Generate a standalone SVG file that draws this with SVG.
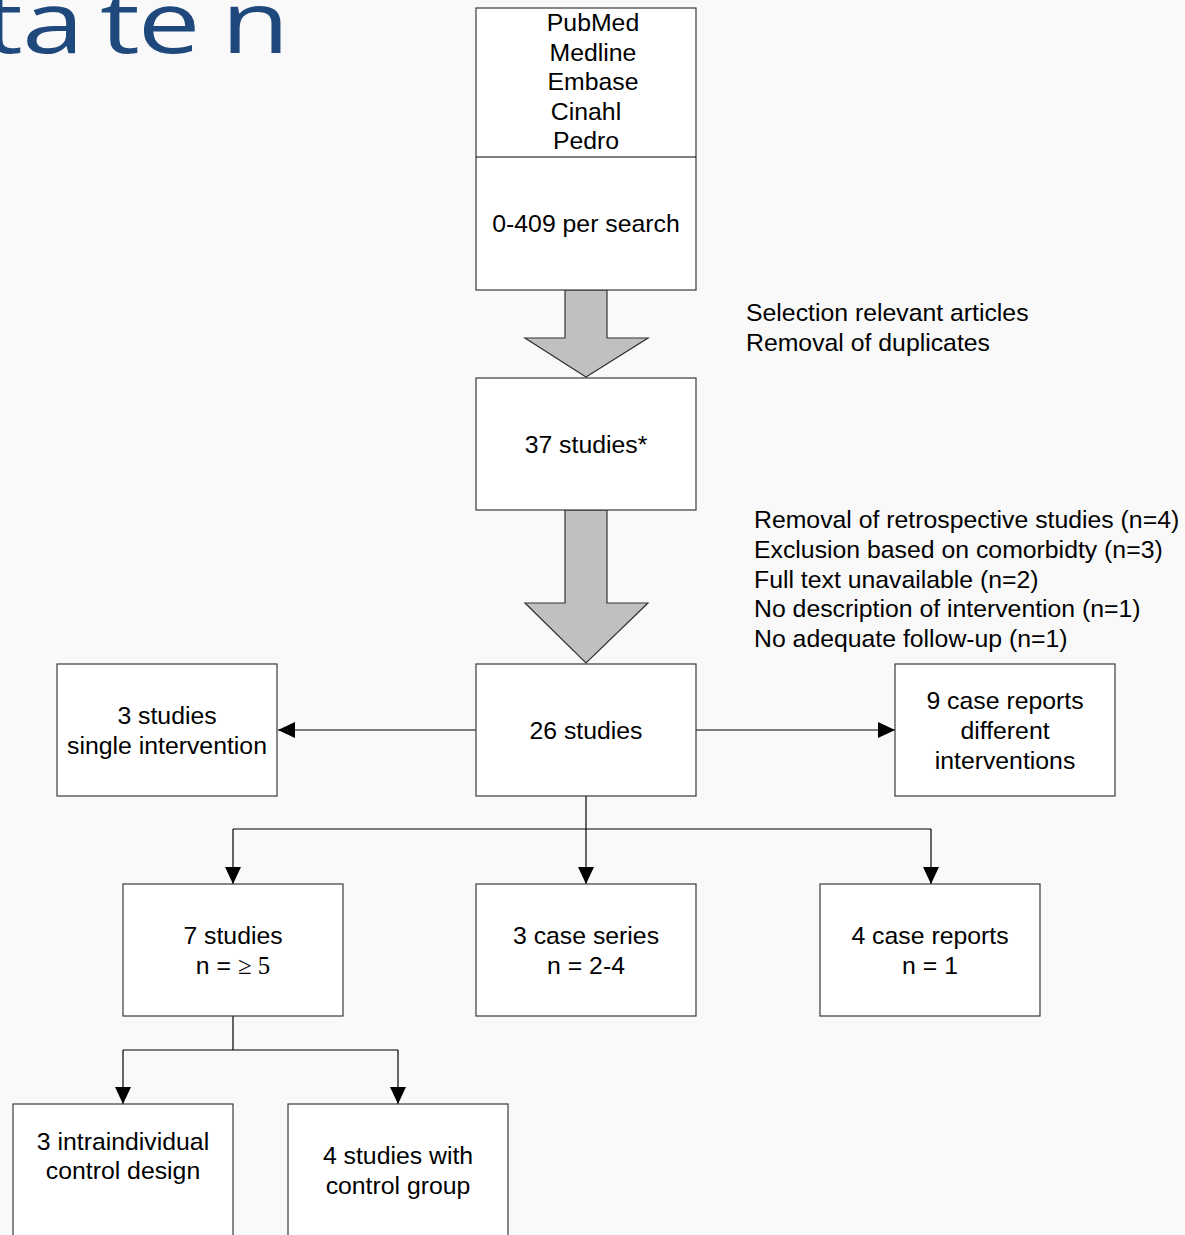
<svg xmlns="http://www.w3.org/2000/svg" width="1185" height="1235" viewBox="0 0 1185 1235">
<defs>
<style>
.box{fill:#ffffff;stroke:#3a3a3a;stroke-width:1.2}
.t{font-family:"Liberation Sans",Arial,sans-serif;font-size:24.8px;fill:#000}
.c{text-anchor:middle}
.ser{font-family:"Liberation Serif","Times New Roman",serif}
.big{fill:#c0c0c0;stroke:#333;stroke-width:1.2;stroke-linejoin:miter}
.ln{fill:none;stroke:#000;stroke-width:1.2}
</style>
<marker id="ah" markerUnits="userSpaceOnUse" markerWidth="18" markerHeight="18" viewBox="0 0 18 18" refX="17" refY="9" orient="auto">
<path d="M0,1 L17,9 L0,17 Z" fill="#000"/>
</marker>
</defs>
<rect width="1185" height="1235" fill="#f9f9f9"/>
<text transform="matrix(1.3 0 0 1 0 0)" x="-13 17 77 106 170" y="53" font-family="'Open Sans',sans-serif" font-weight="500" font-size="86" fill="#1f497d">taten</text>

<g id="connectors">
<polygon class="big" points="565,290 607,290 607,338 648,338 586,377 525,338 565,338"/>
<polygon class="big" points="565,510 607,510 607,603 648,603 586,663 525,603 565,603"/>
<line class="ln" x1="476" y1="730" x2="278" y2="730" marker-end="url(#ah)"/>
<line class="ln" x1="696" y1="730" x2="895" y2="730" marker-end="url(#ah)"/>
<line class="ln" x1="586" y1="796" x2="586" y2="884" marker-end="url(#ah)"/>
<line class="ln" x1="233" y1="829" x2="931" y2="829"/>
<line class="ln" x1="233" y1="829" x2="233" y2="884" marker-end="url(#ah)"/>
<line class="ln" x1="931" y1="829" x2="931" y2="884" marker-end="url(#ah)"/>
<line class="ln" x1="233" y1="1016" x2="233" y2="1050"/>
<line class="ln" x1="123" y1="1050" x2="398" y2="1050"/>
<line class="ln" x1="123" y1="1050" x2="123" y2="1104" marker-end="url(#ah)"/>
<line class="ln" x1="398" y1="1050" x2="398" y2="1104" marker-end="url(#ah)"/>
</g>

<g id="search">
<rect class="box" x="476" y="8" width="220" height="282"/>
<line class="ln" x1="476" y1="157" x2="696" y2="157" stroke="#3a3a3a"/>
<text class="t c" x="593" y="31">PubMed</text>
<text class="t c" x="593" y="60.5">Medline</text>
<text class="t c" x="593" y="90">Embase</text>
<text class="t c" x="586" y="119.5">Cinahl</text>
<text class="t c" x="586" y="149">Pedro</text>
<text class="t c" x="586" y="231.5">0-409 per search</text>
</g>

<g id="note-selection">
<text class="t" x="746" y="320.5">Selection relevant articles</text>
<text class="t" x="746" y="350.5">Removal of duplicates</text>
</g>

<g id="n37">
<rect class="box" x="476" y="378" width="220" height="132"/>
<text class="t c" x="586" y="452.5">37 studies*</text>
</g>

<g id="note-exclusion">
<text class="t" x="754" y="528">Removal of retrospective studies (n=4)</text>
<text class="t" x="754" y="557.5">Exclusion based on comorbidty (n=3)</text>
<text class="t" x="754" y="587.5">Full text unavailable (n=2)</text>
<text class="t" x="754" y="617">No description of intervention (n=1)</text>
<text class="t" x="754" y="647">No adequate follow-up (n=1)</text>
</g>

<g id="n26">
<rect class="box" x="476" y="664" width="220" height="132"/>
<text class="t c" x="586" y="738.5">26 studies</text>
</g>

<g id="single">
<rect class="box" x="57" y="664" width="220" height="132"/>
<text class="t c" x="167" y="723.5">3 studies</text>
<text class="t c" x="167" y="753.5">single intervention</text>
</g>

<g id="casereports9">
<rect class="box" x="895" y="664" width="220" height="132"/>
<text class="t c" x="1005" y="708.5">9 case reports</text>
<text class="t c" x="1005" y="738.5">different</text>
<text class="t c" x="1005" y="768.5">interventions</text>
</g>

<g id="studies7">
<rect class="box" x="123" y="884" width="220" height="132"/>
<text class="t c" x="233" y="943.5">7 studies</text>
<text class="t c" x="233" y="973.5">n = <tspan class="ser">≥ 5</tspan></text>
</g>

<g id="caseseries">
<rect class="box" x="476" y="884" width="220" height="132"/>
<text class="t c" x="586" y="943.5">3 case series</text>
<text class="t c" x="586" y="973.5">n = 2-4</text>
</g>

<g id="casereports4">
<rect class="box" x="820" y="884" width="220" height="132"/>
<text class="t c" x="930" y="943.5">4 case reports</text>
<text class="t c" x="930" y="973.5">n = 1</text>
</g>

<g id="intra">
<rect class="box" x="13" y="1104" width="220" height="140"/>
<text class="t c" x="123" y="1149.5">3 intraindividual</text>
<text class="t c" x="123" y="1178.5">control design</text>
</g>

<g id="control">
<rect class="box" x="288" y="1104" width="220" height="140"/>
<text class="t c" x="398" y="1163.5">4 studies with</text>
<text class="t c" x="398" y="1193.5">control group</text>
</g>
</svg>
